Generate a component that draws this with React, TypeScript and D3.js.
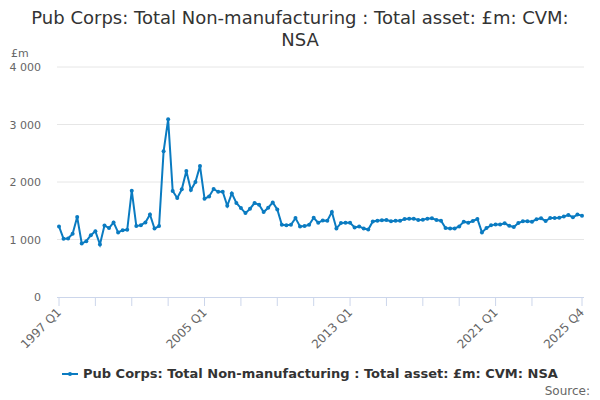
import { useEffect, useRef } from 'react';
import * as d3 from 'd3';

const title = ['Pub Corps: Total Non-manufacturing : Total asset: £m: CVM:', 'NSA'];
const seriesName = 'Pub Corps: Total Non-manufacturing : Total asset: £m: CVM: NSA';

const years = d3.range(1997, 2026);
const quarters = years.flatMap(y => ['Q1', 'Q2', 'Q3', 'Q4'].map(q => `${y} ${q}`));

const values = [
  1227, 1012, 1017, 1099, 1390, 930, 971, 1076, 1145, 913,
  1244, 1198, 1297, 1122, 1163, 1169, 1849, 1233, 1250, 1297,
  1436, 1192, 1233, 2535, 3090, 1843, 1721, 1872, 2192, 1860,
  2000, 2280, 1710, 1748, 1878, 1830, 1831, 1587, 1802, 1634,
  1547, 1459, 1535, 1634, 1605, 1477, 1552, 1645, 1523, 1256,
  1250, 1256, 1372, 1227, 1233, 1256, 1378, 1291, 1331, 1326,
  1477, 1192, 1285, 1291, 1291, 1209, 1227, 1192, 1174, 1314,
  1326, 1335, 1340, 1316, 1327, 1327, 1357, 1363, 1363, 1339,
  1345, 1363, 1368, 1339, 1327, 1199, 1193, 1193, 1228, 1310,
  1292, 1322, 1357, 1123, 1199, 1246, 1263, 1263, 1281, 1240,
  1216, 1287, 1316, 1316, 1310, 1351, 1368, 1322, 1374, 1374,
  1380, 1398, 1427, 1386, 1433, 1415,
];

const yTicks = [0, 1000, 2000, 3000, 4000];
const labelled = ['1997 Q1', '2005 Q1', '2013 Q1', '2021 Q1', '2025 Q4'];

export default function App() {
  const svgRef = useRef<SVGSVGElement>(null);
  const width = 600;
  const height = 400;

  useEffect(() => {
    if (!svgRef.current) return;
    const svg = d3.select(svgRef.current);
    svg.selectAll('*').remove();

    const font = 'DejaVu Sans, sans-serif';
    const left = 59;
    const right = 582;
    const top = 67;
    const bottom = 297;

    const x = d3.scalePoint<string>().domain(quarters).range([left, right]);
    const y = d3.scaleLinear().domain([0, 4000]).range([bottom, top]);

    svg.append('rect').attr('width', width).attr('height', height).attr('fill', '#fff');

    svg.append('g')
      .selectAll('text')
      .data(title)
      .enter()
      .append('text')
      .attr('x', width / 2)
      .attr('y', (_, i) => 24 + i * 22)
      .attr('text-anchor', 'middle')
      .style('font-family', font)
      .style('font-size', '18px')
      .style('fill', '#333')
      .text(d => d);

    svg.append('text')
      .attr('x', 11).attr('y', 57)
      .style('font-family', font).style('font-size', '11px').style('fill', '#666')
      .text('£m');

    // gridlines + y labels
    const grid = svg.append('g');
    grid.selectAll('line')
      .data(yTicks.filter(t => t > 0))
      .enter()
      .append('line')
      .attr('x1', 57).attr('x2', 584)
      .attr('y1', d => y(d)).attr('y2', d => y(d))
      .attr('stroke', '#e6e6e6');
    grid.selectAll('text')
      .data(yTicks)
      .enter()
      .append('text')
      .attr('x', 41)
      .attr('y', d => y(d) + 4)
      .attr('text-anchor', 'end')
      .style('font-family', font).style('font-size', '11px').style('fill', '#666')
      .text(d => d3.format(',')(d).replace(/,/g, ' '));

    // x axis
    const tickQs = quarters.filter((_, i) => i % 8 === 0 && i <= 104).concat(quarters[quarters.length - 1]);
    const xa = svg.append('g');
    xa.append('line')
      .attr('x1', 57).attr('x2', 584)
      .attr('y1', bottom + 0.5).attr('y2', bottom + 0.5)
      .attr('stroke', '#ccd6eb');
    xa.selectAll('line.tick')
      .data(tickQs)
      .enter()
      .append('line')
      .attr('class', 'tick')
      .attr('x1', d => x(d)!).attr('x2', d => x(d)!)
      .attr('y1', bottom).attr('y2', bottom + 9)
      .attr('stroke', '#ccd6eb');
    xa.selectAll('text')
      .data(labelled)
      .enter()
      .append('text')
      .attr('transform', d => `translate(${x(d)! + 3},${bottom + 16}) rotate(-45)`)
      .attr('text-anchor', 'end')
      .style('font-family', font).style('font-size', '12px').style('fill', '#666')
      .text(d => d);

    const color = '#0a7bc1';
    const line = d3.line<number>()
      .x((_, i) => x(quarters[i])!)
      .y(d => y(d));
    svg.append('path')
      .datum(values)
      .attr('d', line)
      .attr('fill', 'none')
      .attr('stroke', color)
      .attr('stroke-width', 2);
    svg.append('g')
      .selectAll('circle')
      .data(values)
      .enter()
      .append('circle')
      .attr('cx', (_, i) => x(quarters[i])!)
      .attr('cy', d => y(d))
      .attr('r', 2)
      .attr('fill', color);

    // legend
    const lg = svg.append('g');
    lg.append('line').attr('x1', 62).attr('x2', 78).attr('y1', 374).attr('y2', 374)
      .attr('stroke', color).attr('stroke-width', 2);
    lg.append('circle').attr('cx', 70).attr('cy', 374).attr('r', 2).attr('fill', color);
    lg.append('text')
      .attr('x', 83).attr('y', 378)
      .style('font-family', font).style('font-size', '13px').style('font-weight', 'bold').style('fill', '#333')
      .text(seriesName);

    svg.append('text')
      .attr('x', 590).attr('y', 395)
      .attr('text-anchor', 'end')
      .style('font-family', font).style('font-size', '12px').style('fill', '#666')
      .text('Source:');
  }, []);

  return (
    <svg
      ref={svgRef}
      width={width}
      height={height}
      style={{ position: 'absolute', left: 0, top: 0, display: 'block' }}
    />
  );
}
